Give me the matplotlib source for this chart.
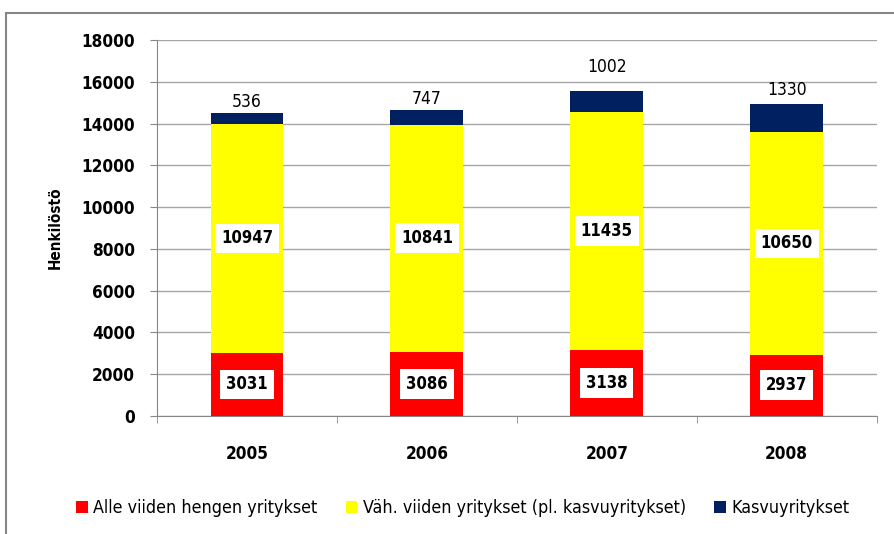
import numpy as np
import matplotlib.pyplot as plt
from matplotlib.patches import Rectangle

plt.rcParams['font.family'] = ['DejaVu Sans']
plt.rcParams['font.stretch'] = 'condensed'

years = ['2005', '2006', '2007', '2008']
alle_viiden = [3031, 3086, 3138, 2937]
vah_viiden = [10947, 10841, 11435, 10650]
kasvu = [536, 747, 1002, 1330]

series_names = ['Alle viiden hengen yritykset',
                'Väh. viiden yritykset (pl. kasvuyritykset)',
                'Kasvuyritykset']
colors = ['#ff0000', '#ffff00', '#002060']
# vertical offset (points) of the top labels above each bar
top_offsets = [1.5, 1, 10.5, 4]

fig = plt.figure(figsize=(8.94, 5.34), dpi=100)
ax = fig.add_axes([0.1756, 0.221, 0.805, 0.704])

# outer chart frame
fig.patches.append(Rectangle((6 / 894, -0.1), 1.2, 1 - 13 / 534 + 0.1,
                             transform=fig.transFigure, fill=False,
                             edgecolor='#868686', lw=1.5))

x = np.arange(len(years))
w = 0.405
a = np.array(alle_viiden)
v = np.array(vah_viiden)
k = np.array(kasvu)

ax.bar(x, a, w, color=colors[0], label=series_names[0], zorder=3)
ax.bar(x, v, w, bottom=a, color=colors[1], label=series_names[1], zorder=3)
ax.bar(x, k, w, bottom=a + v, color=colors[2], label=series_names[2], zorder=3)

box = dict(boxstyle='square,pad=0.35', fc='white', ec='none')
for i in range(len(years)):
    ax.text(x[i], a[i] / 2, str(a[i]), ha='center', va='center',
            fontsize=12, fontweight='bold', bbox=box, zorder=4)
    ax.text(x[i], a[i] + v[i] / 2, str(v[i]), ha='center', va='center',
            fontsize=12, fontweight='bold', bbox=box, zorder=4)
    ax.annotate(str(k[i]), (x[i], a[i] + v[i] + k[i]),
                xytext=(0, top_offsets[i]), textcoords='offset points',
                ha='center', va='bottom', fontsize=12.5)

ax.set_xlim(-0.5, len(years) - 0.5)
ax.set_ylim(0, 18000)
ax.set_yticks(np.arange(0, 18001, 2000))
ax.set_xticks(x)
ax.set_xticklabels(years)
ax.set_xticks(np.arange(-0.5, len(years)), minor=True)
ax.tick_params(axis='x', which='major', length=0, pad=21)
ax.tick_params(axis='x', which='minor', length=5, color='#868686')
ax.tick_params(axis='y', length=5, color='#868686', pad=11)
for lbl in ax.get_xticklabels() + ax.get_yticklabels():
    lbl.set_fontweight('bold')
    lbl.set_fontsize(12.3)

ax.grid(axis='y', color='#a6a6a6', lw=1, zorder=0)
for s in ['top', 'right']:
    ax.spines[s].set_visible(False)
for s in ['left', 'bottom']:
    ax.spines[s].set_color('#868686')

ax.set_ylabel('Henkilöstö', fontsize=11, fontweight='bold', labelpad=13)

ax.legend(loc='center', bbox_to_anchor=(0.425, -0.245), ncol=3, frameon=False,
          fontsize=12.8, handlelength=0.65, handleheight=0.65, handletextpad=0.3,
          columnspacing=1.6)

fig.savefig('out.png', dpi=100)
